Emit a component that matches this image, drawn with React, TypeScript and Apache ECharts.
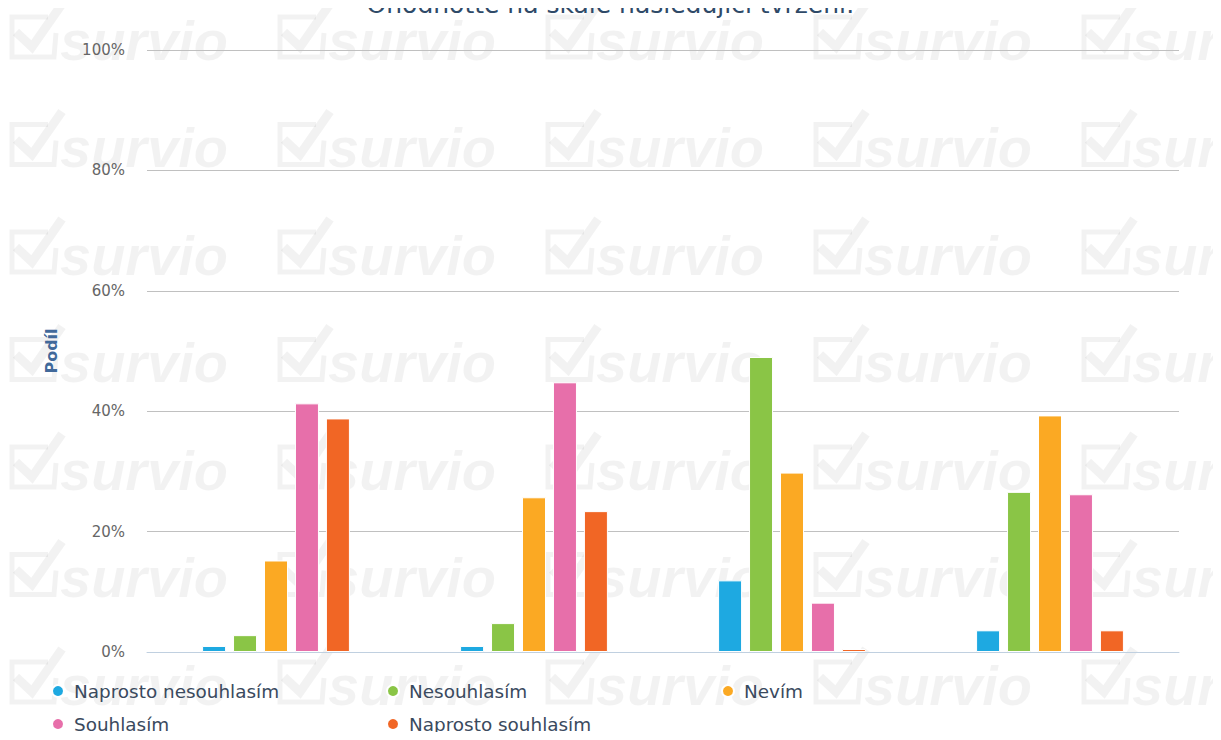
import React, { useEffect, useRef } from "react";
import * as echarts from "echarts";

const titleText = "Ohodnoťte na škále následující tvrzení:";
const yAxisName = "Podíl";
const categories = ["Tvrzení 1", "Tvrzení 2", "Tvrzení 3", "Tvrzení 4"];
const seriesNames = [
  "Naprosto nesouhlasím",
  "Nesouhlasím",
  "Nevím",
  "Souhlasím",
  "Naprosto souhlasím",
];
const seriesColors = ["#1ea9e1", "#8ac546", "#fba923", "#e76faa", "#f16625"];
const naprostoNesouhlasim = [1.0, 1.0, 11.9, 3.6];
const nesouhlasim = [2.8, 4.8, 49.0, 26.6];
const nevim = [15.2, 25.7, 29.8, 39.3];
const souhlasim = [41.3, 44.8, 8.2, 26.2];
const naprostoSouhlasim = [38.8, 23.4, 0.3, 3.6];
const seriesValues = [naprostoNesouhlasim, nesouhlasim, nevim, souhlasim, naprostoSouhlasim];
const yTicks = [0, 20, 40, 60, 80, 100];
const watermarkText = "survio";

function buildWatermark() {
  const els: any[] = [];
  const wm = "rgba(0,0,0,0.05)";
  for (let r = 0; r < 7; r++) {
    for (let c = 0; c < 5; c++) {
      const x0 = 10 + 268 * c;
      const cy = 35 + 107.5 * r;
      els.push({
        type: "polyline",
        silent: true,
        z: -10,
        shape: {
          points: [
            [x0 + 38, cy - 18],
            [x0 + 2, cy - 18],
            [x0 + 2, cy + 22],
            [x0 + 44, cy + 22],
            [x0 + 46, cy - 2],
          ],
        },
        style: { stroke: wm, lineWidth: 5, fill: null },
      });
      els.push({
        type: "polyline",
        silent: true,
        z: -10,
        shape: {
          points: [
            [x0 + 6, cy - 3],
            [x0 + 22, cy + 12],
            [x0 + 52, cy - 31],
          ],
        },
        style: { stroke: wm, lineWidth: 9, fill: null },
      });
      els.push({
        type: "text",
        silent: true,
        z: -10,
        x: x0 + 50,
        y: cy + 5,
        style: {
          text: watermarkText,
          fill: wm,
          font: "italic bold 56px 'Liberation Sans', Arial, sans-serif",
          verticalAlign: "middle",
          align: "left",
        },
      });
    }
  }
  return els;
}

export default function App() {
  const ref = useRef<HTMLDivElement>(null);
  useEffect(() => {
    if (!ref.current) return;
    const chart = echarts.init(ref.current, undefined, { renderer: "svg" });
    const legendPos = [
      { left: 51, top: 681 },
      { left: 386, top: 681 },
      { left: 721, top: 681 },
      { left: 51, top: 714 },
      { left: 386, top: 714 },
    ];
    chart.setOption({
      animation: false,
      backgroundColor: "#fff",
      title: {
        text: titleText,
        left: "center",
        top: -13,
        textStyle: {
          fontFamily: "DejaVu Sans",
          fontSize: 25,
          fontWeight: "normal",
          color: "#2f4a68",
        },
      },
      graphic: { elements: buildWatermark() },
      legend: seriesNames.map((n, i) => ({
        data: [n],
        left: legendPos[i].left,
        top: legendPos[i].top,
        padding: 0,
        icon: "circle",
        itemWidth: 12,
        itemHeight: 12,
        selectedMode: false,
        textStyle: {
          fontFamily: "DejaVu Sans",
          fontSize: 18.4,
          color: "#3a4a5e",
          padding: [0, 0, 0, 5],
          lineHeight: 20,
        },
      })),
      grid: { left: 147, right: 42, top: 50, bottom: 88 },
      xAxis: {
        type: "category",
        data: categories,
        axisLine: { lineStyle: { color: "#c0d0e0", width: 1 } },
        axisTick: { alignWithLabel: true, length: 10, lineStyle: { color: "#c0d0e0" } },
        axisLabel: { show: false },
      },
      yAxis: {
        type: "value",
        min: yTicks[0],
        max: yTicks[yTicks.length - 1],
        interval: 20,
        name: yAxisName,
        nameLocation: "middle",
        nameGap: 88,
        nameRotate: 90,
        nameTextStyle: {
          fontFamily: "DejaVu Sans",
          fontSize: 16,
          fontWeight: "bold",
          color: "#41699a",
        },
        axisLabel: {
          formatter: "{value}%",
          fontFamily: "DejaVu Sans",
          fontSize: 15,
          color: "#666",
          margin: 22,
        },
        splitLine: { lineStyle: { color: "#c0c0c0" } },
        axisLine: { show: false },
        axisTick: { show: false },
      },
      series: seriesNames.map((n, i) => ({
        name: n,
        type: "bar",
        data: seriesValues[i],
        barWidth: 24,
        barGap: "29%",
        barMinHeight: 3,
        itemStyle: { color: seriesColors[i], borderColor: "#fff", borderWidth: 1 },
      })),
    });
    return () => chart.dispose();
  }, []);
  return <div ref={ref} style={{ width: 1221, height: 740, margin: -8 }} />;
}
